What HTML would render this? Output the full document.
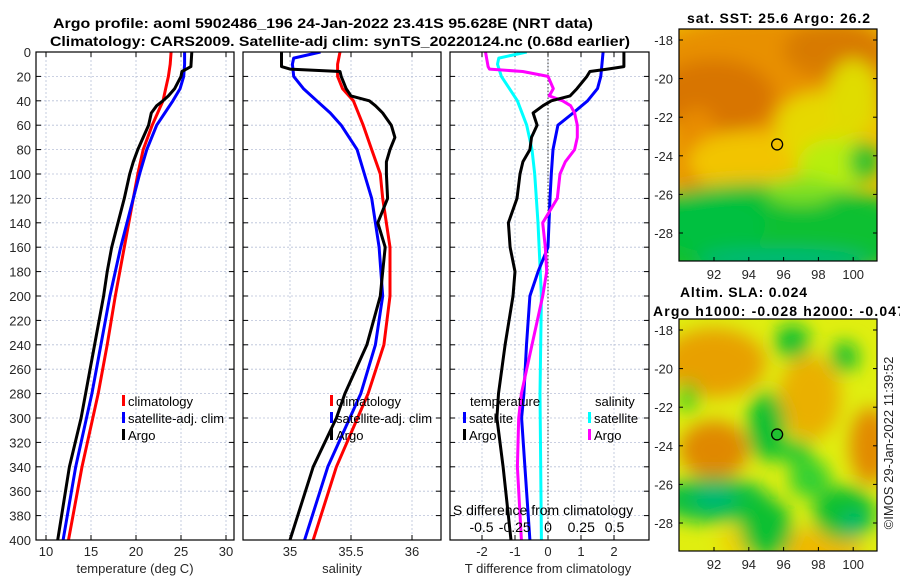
<!DOCTYPE html>
<html><head><meta charset="utf-8">
<style>
html,body{margin:0;padding:0;background:#fff;}
svg{display:block;font-family:"Liberation Sans","DejaVu Sans",sans-serif;}
.tk{font-size:13px;fill:#262626;}
.tt{font-size:14px;font-weight:bold;fill:#000;}
.lg{font-size:13px;fill:#000;}
.sd{font-size:14px;fill:#000;}
</style></head>
<body>
<svg id="fig" width="900" height="580" viewBox="0 0 900 580">
<defs>
<clipPath id="c1"><rect x="36" y="52" width="198" height="488"/></clipPath>
<clipPath id="c2"><rect x="243" y="52" width="198" height="488"/></clipPath>
<clipPath id="c3"><rect x="450" y="52" width="199" height="488"/></clipPath>
<clipPath id="cm1"><rect x="679" y="29" width="198" height="232"/></clipPath>
<clipPath id="cm2"><rect x="679" y="319" width="198" height="232"/></clipPath>
<filter id="bl" x="-50%" y="-50%" width="200%" height="200%"><feGaussianBlur stdDeviation="9"/></filter>
</defs>
<text class="tt" x="53" y="28" textLength="540" lengthAdjust="spacingAndGlyphs">Argo profile: aoml 5902486_196 24-Jan-2022 23.41S 95.628E (NRT data)</text>
<text class="tt" x="50" y="46" textLength="580" lengthAdjust="spacingAndGlyphs">Climatology: CARS2009. Satellite-adj clim: synTS_20220124.nc (0.68d earlier)</text>
<g id="plots"></g>
<g id="maps"></g>
<text class="tk" transform="translate(893,443) rotate(-90)" text-anchor="middle">©IMOS 29-Jan-2022 11:39:52</text>
</svg>
<script>
// ---- data ----
const climDepth = [0,10,20,30,40,50,60,80,100,120,160,200,240,280,340,400];
const tempClim = [23.9,23.8,23.6,23.3,23.0,22.4,21.8,20.8,20.2,19.7,18.7,17.7,16.8,15.8,14.0,12.5];
const tempSat = [25.4,25.4,25.3,24.9,24.1,23.2,22.3,21.2,20.4,19.7,18.3,17.1,16.1,15.1,13.3,11.9];
const salClim = [35.41,35.39,35.39,35.43,35.52,35.56,35.60,35.67,35.74,35.76,35.82,35.82,35.77,35.64,35.38,35.19];
const argoDepth = [0,12,14,16,20,30,36,40,44,50,60,70,80,90,100,120,140,160,180,200,240,280,300,340,400];
const tempArgo = [26.2,26.1,25.6,25.1,25.0,24.3,23.6,23.0,22.3,21.7,21.4,20.8,20.2,19.7,19.3,18.7,18.0,17.3,16.8,16.4,15.4,14.4,13.9,12.6,11.3];
const salArgo = [34.93,34.93,35.0,35.41,35.42,35.46,35.5,35.65,35.7,35.76,35.83,35.86,35.82,35.79,35.79,35.8,35.72,35.78,35.76,35.74,35.63,35.45,35.38,35.19,35.0];
const salSatDepth = [0,5,10,20,30,40,50,60,80,100,120,160,200,240,280,340,400];
const salSat = [35.25,35.03,35.02,35.03,35.11,35.22,35.33,35.42,35.55,35.61,35.67,35.73,35.76,35.70,35.58,35.31,35.12];
const dTSatDepth = [0,20,30,40,50,60,80,100,120,160,180,200,240,280,300,340,400];
const dTSat = [1.67,1.6,1.5,1.2,0.76,0.3,0.15,0.1,0.06,0,-0.3,-0.55,-0.65,-0.73,-0.8,-0.7,-0.55];
const dTArgo = [2.3,2.3,1.8,1.27,1.18,0.88,0.67,0.1,-0.15,-0.45,-0.33,-0.5,-0.55,-0.76,-0.85,-0.94,-1.2,-1.15,-1.0,-1.06,-1.3,-1.5,-1.55,-1.36,-1.12];
const dSSatDepth = [0,5,10,20,30,40,60,80,100,140,200,280,400];
const dSSat = [-0.16,-0.37,-0.38,-0.35,-0.29,-0.23,-0.16,-0.12,-0.1,-0.075,-0.05,-0.06,-0.05];
const dSArgo = [-0.47,-0.45,-0.44,-0.19,0,0.04,0.01,0.11,0.17,0.2,0.22,0.22,0.2,0.13,0.09,0.07,-0.04,-0.02,-0.01,-0.04,-0.12,-0.2,-0.22,-0.23,-0.2];
const depthTicks = [0,20,40,60,80,100,120,140,160,180,200,220,240,260,280,300,320,340,360,380,400];
const tempTicks = [10,15,20,25,30];
const salTicks = [35,35.5,36];
const dTTicks = [-2,-1,0,1,2];
const dSTicks = [-0.5,-0.25,0,0.25,0.5];
const latTicks = [-18,-20,-22,-24,-26,-28];
const lonTicks = [92,94,96,98,100];
const argoLon = 95.628, argoLat = -23.41;

// ---- scales ----
const NS = 'http://www.w3.org/2000/svg';
const yD = d => 52 + d * 1.22;
const xT = v => 46 + (v - 10) * 9;
const xS = v => 290 + (v - 35) * 122;
const xDT = v => 548 + v * 33;
const xDS = v => 548 + v * 133;
const mX = lon => 714 + (lon - 92) * 17.4;
const m1Y = lat => 40 + (-18 - lat) * 19.3;
const m2Y = lat => 330 + (-18 - lat) * 19.3;

function mk(tag, attrs, parent) {
  const e = document.createElementNS(NS, tag);
  for (const k in attrs) e.setAttribute(k, attrs[k]);
  parent.appendChild(e);
  return e;
}
const plots = document.getElementById('plots');
const maps = document.getElementById('maps');

function panel(x0, w, name) {
  const g = mk('g', {}, plots);
  
  
  mk('rect', {x: x0, y: 52, width: w, height: 488, fill: '#fff'}, g);
  depthTicks.forEach(d => {
    const gl = mk('line', {x1: x0, x2: x0 + w, y1: yD(d), y2: yD(d), stroke: '#b8c0d8', 'stroke-width': 0.8, 'stroke-dasharray': '2,2'}, g);
    
    
    mk('line', {x1: x0, x2: x0 + 5, y1: yD(d), y2: yD(d), stroke: '#000'}, g);
    mk('line', {x1: x0 + w - 5, x2: x0 + w, y1: yD(d), y2: yD(d), stroke: '#000'}, g);
  });
  return g;
}
function xgrid(g, ticks, sx, labels, ly) {
  ticks.forEach(t => {
    const gl = mk('line', {x1: sx(t), x2: sx(t), y1: 52, y2: 540, stroke: '#b8c0d8', 'stroke-width': 0.8, 'stroke-dasharray': '2,2'}, g);
    
    
    mk('line', {x1: sx(t), x2: sx(t), y1: 535, y2: 540, stroke: '#000'}, g);
    mk('line', {x1: sx(t), x2: sx(t), y1: 52, y2: 57, stroke: '#000'}, g);
    if (labels) {
      const tx = mk('text', {x: sx(t), y: ly, 'text-anchor': 'middle', class: 'tk'}, g);
      tx.textContent = String(t);
      
      
    }
  });
}
function line(g, depths, vals, sx, color, clip, name) {
  const d = depths.map((dd, i) => (i ? 'L' : 'M') + sx(vals[i]).toFixed(1) + ',' + yD(dd).toFixed(1)).join('');
  const p = mk('path', {d: d, fill: 'none', stroke: color, 'stroke-width': 3, 'stroke-linejoin': 'round', 'clip-path': 'url(#' + clip + ')'}, g);
  
  
}
function frame(g, x0, w) {
  mk('rect', {x: x0, y: 52, width: w, height: 488, fill: 'none', stroke: '#000', 'stroke-width': 1.2}, g);
}
function text(g, x, y, s, cls, anchor, name) {
  const t = mk('text', {x: x, y: y, class: cls, 'text-anchor': anchor || 'start'}, g);
  t.textContent = s;
  
  
  return t;
}
function legendItem(g, x, y, color, label, name) {
  mk('rect', {x: x, y: y - 11, width: 3, height: 11, fill: color}, g);
  text(g, x + 6, y, label, 'lg', 'start', name);
}

depthTicks.forEach(d => text(plots, 31, yD(d) + 5, String(d), 'tk', 'end', 'depth-tick-label'));

// panel 1 temperature
const p1 = panel(36, 198, 'temperature-panel');
xgrid(p1, tempTicks, xT, true, 556);
line(p1, climDepth, tempClim, xT, '#ff0000', 'c1', 'temp-climatology-line');
line(p1, climDepth, tempSat, xT, '#0000ff', 'c1', 'temp-satellite-line');
line(p1, argoDepth, tempArgo, xT, '#000000', 'c1', 'temp-argo-line');
frame(p1, 36, 198);
legendItem(p1, 122, 406, '#ff0000', 'climatology', 'legend-climatology');
legendItem(p1, 122, 423, '#0000ff', 'satellite-adj. clim', 'legend-satellite');
legendItem(p1, 122, 440, '#000000', 'Argo', 'legend-argo');
text(p1, 135, 573, 'temperature (deg C)', 'tk', 'middle', 'x-axis-title-temperature');

// panel 2 salinity
const p2 = panel(243, 198, 'salinity-panel');
xgrid(p2, salTicks, xS, true, 556);
line(p2, climDepth, salClim, xS, '#ff0000', 'c2', 'sal-climatology-line');
line(p2, salSatDepth, salSat, xS, '#0000ff', 'c2', 'sal-satellite-line');
line(p2, argoDepth, salArgo, xS, '#000000', 'c2', 'sal-argo-line');
frame(p2, 243, 198);
legendItem(p2, 330, 406, '#ff0000', 'climatology', 'legend-climatology-2');
legendItem(p2, 330, 423, '#0000ff', 'satellite-adj. clim', 'legend-satellite-2');
legendItem(p2, 330, 440, '#000000', 'Argo', 'legend-argo-2');
text(p2, 342, 573, 'salinity', 'tk', 'middle', 'x-axis-title-salinity');

// panel 3 differences
const p3 = panel(450, 199, 'difference-panel');
xgrid(p3, dTTicks, xDT, true, 556);
mk('line', {x1: xDT(0), x2: xDT(0), y1: 52, y2: 540, stroke: '#333', 'stroke-width': 1, 'stroke-dasharray': '1.5,2'}, p3);
line(p3, dSSatDepth, dSSat, xDS, '#00ffff', 'c3', 'sdiff-satellite-line');
line(p3, dTSatDepth, dTSat, xDT, '#0000ff', 'c3', 'tdiff-satellite-line');
line(p3, argoDepth, dSArgo, xDS, '#ff00ff', 'c3', 'sdiff-argo-line');
line(p3, argoDepth, dTArgo, xDT, '#000000', 'c3', 'tdiff-argo-line');
frame(p3, 450, 199);
text(p3, 470, 406, 'temperature', 'lg', 'start', 'legend-temperature-heading');
text(p3, 595, 406, 'salinity', 'lg', 'start', 'legend-salinity-heading');
legendItem(p3, 463, 423, '#0000ff', 'satellite', 'legend-t-satellite');
legendItem(p3, 463, 440, '#000000', 'Argo', 'legend-t-argo');
legendItem(p3, 588, 423, '#00ffff', 'satellite', 'legend-s-satellite');
legendItem(p3, 588, 440, '#ff00ff', 'Argo', 'legend-s-argo');
text(p3, 543, 515, 'S difference from climatology', 'sd', 'middle', 's-diff-axis-title');
dSTicks.forEach(t => text(p3, xDS(t), 532, String(t), 'sd', 'middle', 's-diff-tick-label'));
text(p3, 548, 573, 'T difference from climatology', 'tk', 'middle', 'x-axis-title-tdiff');

// ---- maps ----
function mapFrame(name, y0, sy, clip, blobs, base, circleFill) {
  const g = mk('g', {}, maps);
  
  
  const inner = mk('g', {'clip-path': 'url(#' + clip + ')'}, g);
  mk('rect', {x: 679, y: y0, width: 198, height: 232, fill: base}, inner);
  const bg = mk('g', {filter: 'url(#bl)'}, inner);
  blobs.forEach(b => mk('ellipse', {cx: mX(b[0]), cy: sy(b[1]), rx: b[2] * 17.4, ry: b[3] * 19.3, fill: b[4]}, bg));
  mk('rect', {x: 679, y: y0, width: 198, height: 232, fill: 'none', stroke: '#000', 'stroke-width': 1.2}, g);
  latTicks.forEach(l => {
    mk('line', {x1: 679, x2: 683, y1: sy(l), y2: sy(l), stroke: '#000'}, g);
    mk('line', {x1: 873, x2: 877, y1: sy(l), y2: sy(l), stroke: '#000'}, g);
    text(g, 673, sy(l) + 5, String(l), 'tk', 'end', 'lat-tick-label');
  });
  lonTicks.forEach(l => {
    mk('line', {x1: mX(l), x2: mX(l), y1: y0 + 228, y2: y0 + 232, stroke: '#000'}, g);
    text(g, mX(l), y0 + 250, String(l), 'tk', 'middle', 'lon-tick-label');
  });
  const c = mk('circle', {cx: mX(argoLon), cy: sy(argoLat), r: 5.5, fill: circleFill, stroke: '#000', 'stroke-width': 1.3}, g);
  
  
  return g;
}
const sstBlobs = [
  [95, -20, 8, 3.2, '#e89000'],
  [92, -21, 3.5, 2, '#d87400'],
  [99, -18.5, 3, 1.5, '#d87a00'],
  [91, -24, 1.5, 2.5, '#e88c00'],
  [94, -24.3, 3.5, 1.6, '#f2c400'],
  [98, -22.5, 2.5, 1.8, '#e6d800'],
  [100, -21, 1.5, 2, '#e0dc00'],
  [99, -24.5, 2.2, 1.4, '#b8ee10'],
  [100.6, -24.3, 0.8, 1, '#10c030'],
  [95, -28, 9, 2.6, '#10c030'],
  [92, -27.5, 3, 1.5, '#00c040'],
  [96, -29.4, 5, 0.6, '#00b878'],
  [97, -25.8, 2, 0.7, '#80e020']
];
const slaBlobs = [
  [92, -19.7, 3, 1.8, '#e8a000'],
  [92, -24.2, 2, 1.5, '#e08800'],
  [97.5, -21.5, 1.8, 2.2, '#eab000'],
  [101, -24, 1.2, 2, '#e28a00'],
  [98, -29.3, 2.5, 1, '#f0b800'],
  [93.8, -29, 1.5, 0.9, '#f0d000'],
  [95, -23, 1.1, 1.8, '#10c030'],
  [96.5, -24.3, 1.2, 0.6, '#20c830'],
  [92, -26.8, 3.2, 1.2, '#10c040'],
  [92, -26.7, 1.2, 0.6, '#00b878'],
  [95, -28.3, 1.5, 1.6, '#10c030'],
  [99.5, -27.5, 1.8, 1.4, '#10c030'],
  [100, -28, 0.6, 0.6, '#00b878'],
  [97.5, -25.7, 1.2, 1, '#30d030'],
  [96.5, -18.6, 1, 0.9, '#10c030'],
  [99.5, -19.4, 0.8, 0.8, '#10c030'],
  [90.5, -21.5, 0.6, 0.8, '#40d020']
];
mapFrame('sst-map', 29, m1Y, 'cm1', sstBlobs, '#f0c000', '#f0c000');
mapFrame('sla-map', 319, m2Y, 'cm2', slaBlobs, '#e0ee10', '#20c030');
const st = text(maps, 687, 23, 'sat. SST: 25.6 Argo: 26.2', 'tt', 'start', 'sst-map-title');
st.setAttribute('textLength', '183');
const s1 = text(maps, 680, 297, 'Altim. SLA: 0.024', 'tt', 'start', 'sla-map-title');
s1.setAttribute('textLength', '127');
const s2 = text(maps, 653, 316, 'Argo h1000: -0.028 h2000: -0.047', 'tt', 'start', 'sla-map-subtitle');
s2.setAttribute('textLength', '252');
</script>
</body></html>
